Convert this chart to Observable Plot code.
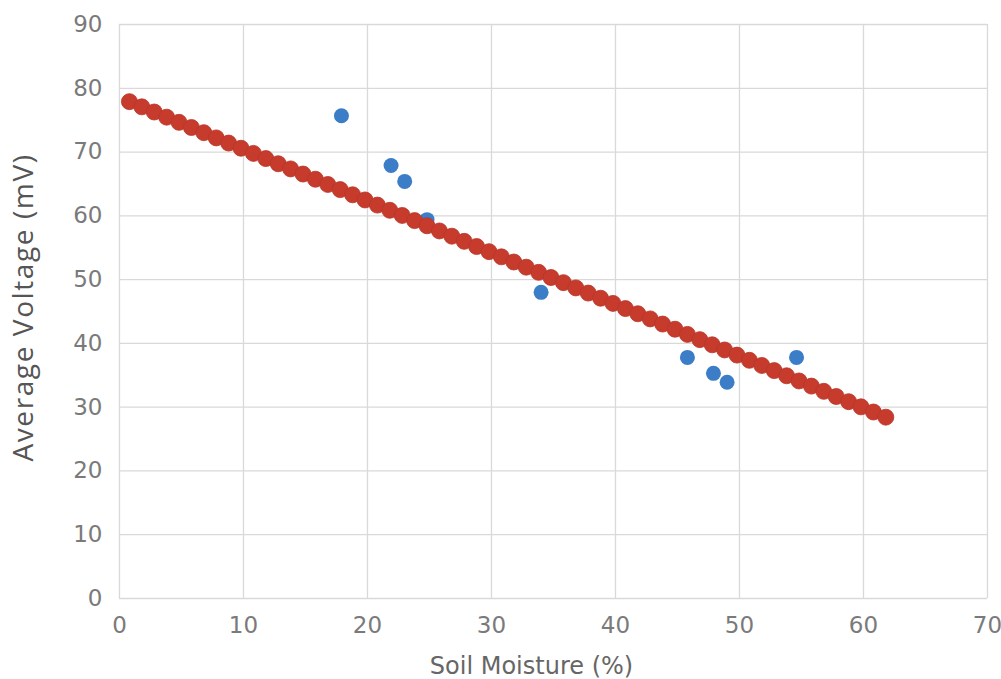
<!DOCTYPE html>
<html>
<head>
<meta charset="utf-8">
<script src="https://cdn.jsdelivr.net/npm/d3@7"></script>
<script src="https://cdn.jsdelivr.net/npm/@observablehq/plot@0.6"></script>
<style>
  html, body { margin: 0; padding: 0; background: #ffffff; }
  #chart svg { display: block; overflow: visible; }
</style>
</head>
<body>
<div id="chart"></div>
<script>
// Measured soil moisture (%) and average voltage (mV)
const measuredMoisture = [17.9, 21.9, 23.0, 24.8, 34.0, 45.8, 47.9, 49.0, 54.6];
const measuredVoltage  = [75.7, 67.9, 65.4, 59.4, 48.0, 37.8, 35.3, 33.9, 37.8];

// Fitted (trend) points
const fitMoisture = [0.8, 1.8, 2.8, 3.8, 4.8, 5.8, 6.8, 7.8, 8.8, 9.8,
  10.8, 11.8, 12.8, 13.8, 14.8, 15.8, 16.8, 17.8, 18.8, 19.8,
  20.8, 21.8, 22.8, 23.8, 24.8, 25.8, 26.8, 27.8, 28.8, 29.8,
  30.8, 31.8, 32.8, 33.8, 34.8, 35.8, 36.8, 37.8, 38.8, 39.8,
  40.8, 41.8, 42.8, 43.8, 44.8, 45.8, 46.8, 47.8, 48.8, 49.8,
  50.8, 51.8, 52.8, 53.8, 54.8, 55.8, 56.8, 57.8, 58.8, 59.8,
  60.8, 61.8];
const fitVoltage = [77.90, 77.09, 76.28, 75.47, 74.66, 73.85, 73.04, 72.22, 71.41, 70.60,
  69.79, 68.98, 68.17, 67.36, 66.55, 65.74, 64.92, 64.11, 63.30, 62.49,
  61.68, 60.87, 60.06, 59.25, 58.44, 57.63, 56.81, 56.00, 55.19, 54.38,
  53.57, 52.76, 51.95, 51.14, 50.33, 49.52, 48.70, 47.89, 47.08, 46.27,
  45.46, 44.65, 43.84, 43.03, 42.22, 41.41, 40.59, 39.78, 38.97, 38.16,
  37.35, 36.54, 35.73, 34.92, 34.11, 33.30, 32.48, 31.67, 30.86, 30.05,
  29.24, 28.43];

const xTicks = [0, 10, 20, 30, 40, 50, 60, 70];
const yTicks = [0, 10, 20, 30, 40, 50, 60, 70, 80, 90];
const xTitle = ["Soil Moisture (%)"];
const yTitle = ["Average Voltage (mV)"];

const measured = measuredMoisture.map((x, i) => ({x, y: measuredVoltage[i]}));
const fitted = fitMoisture.map((x, i) => ({x, y: fitVoltage[i]}));

const chart = Plot.plot({
  width: 1001,
  height: 679,
  marginLeft: 119,
  marginRight: 14,
  marginTop: 24,
  marginBottom: 81,
  style: {fontFamily: "DejaVu Sans, sans-serif", fontSize: "23px", color: "#7a7a7a", background: "#ffffff", overflow: "visible"},
  x: {domain: [0, 70], ticks: xTicks},
  y: {domain: [0, 90], ticks: yTicks},
  marks: [
    Plot.gridX(xTicks, {stroke: "#d9d9d9", strokeOpacity: 1, strokeWidth: 1.3}),
    Plot.gridY(yTicks, {stroke: "#d9d9d9", strokeOpacity: 1, strokeWidth: 1.3}),
    Plot.axisX(xTicks, {tickSize: 0, tickPadding: 18, label: null, fill: "#7a7a7a"}),
    Plot.axisY(yTicks, {tickSize: 0, tickPadding: 17, label: null, fill: "#7a7a7a"}),
    Plot.text(xTitle, {frameAnchor: "bottom", dy: 75, dx: -22, text: d => d,
      fontFamily: "DejaVu Sans, sans-serif", fontSize: 24, fill: "#666666"}),
    Plot.text(yTitle, {frameAnchor: "left", textAnchor: "middle", dx: -95, dy: -4, rotate: -90, text: d => d,
      fontFamily: "Open Sans, sans-serif", fontSize: 28, fill: "#555555"}),
    Plot.dot(measured, {x: "x", y: "y", r: 7.5, fill: "#3b7dc6", stroke: "none"}),
    Plot.dot(fitted, {x: "x", y: "y", r: 8, fill: "#c63b2c", stroke: "#b8352a", strokeWidth: 0.8})
  ]
});
// slightly wider tracking on the vertical title, as in the reference
d3.select(chart).selectAll('text').filter(function () { return this.textContent === yTitle[0]; })
  .style("letter-spacing", "1.6px");
document.getElementById("chart").appendChild(chart);
</script>
</body>
</html>
